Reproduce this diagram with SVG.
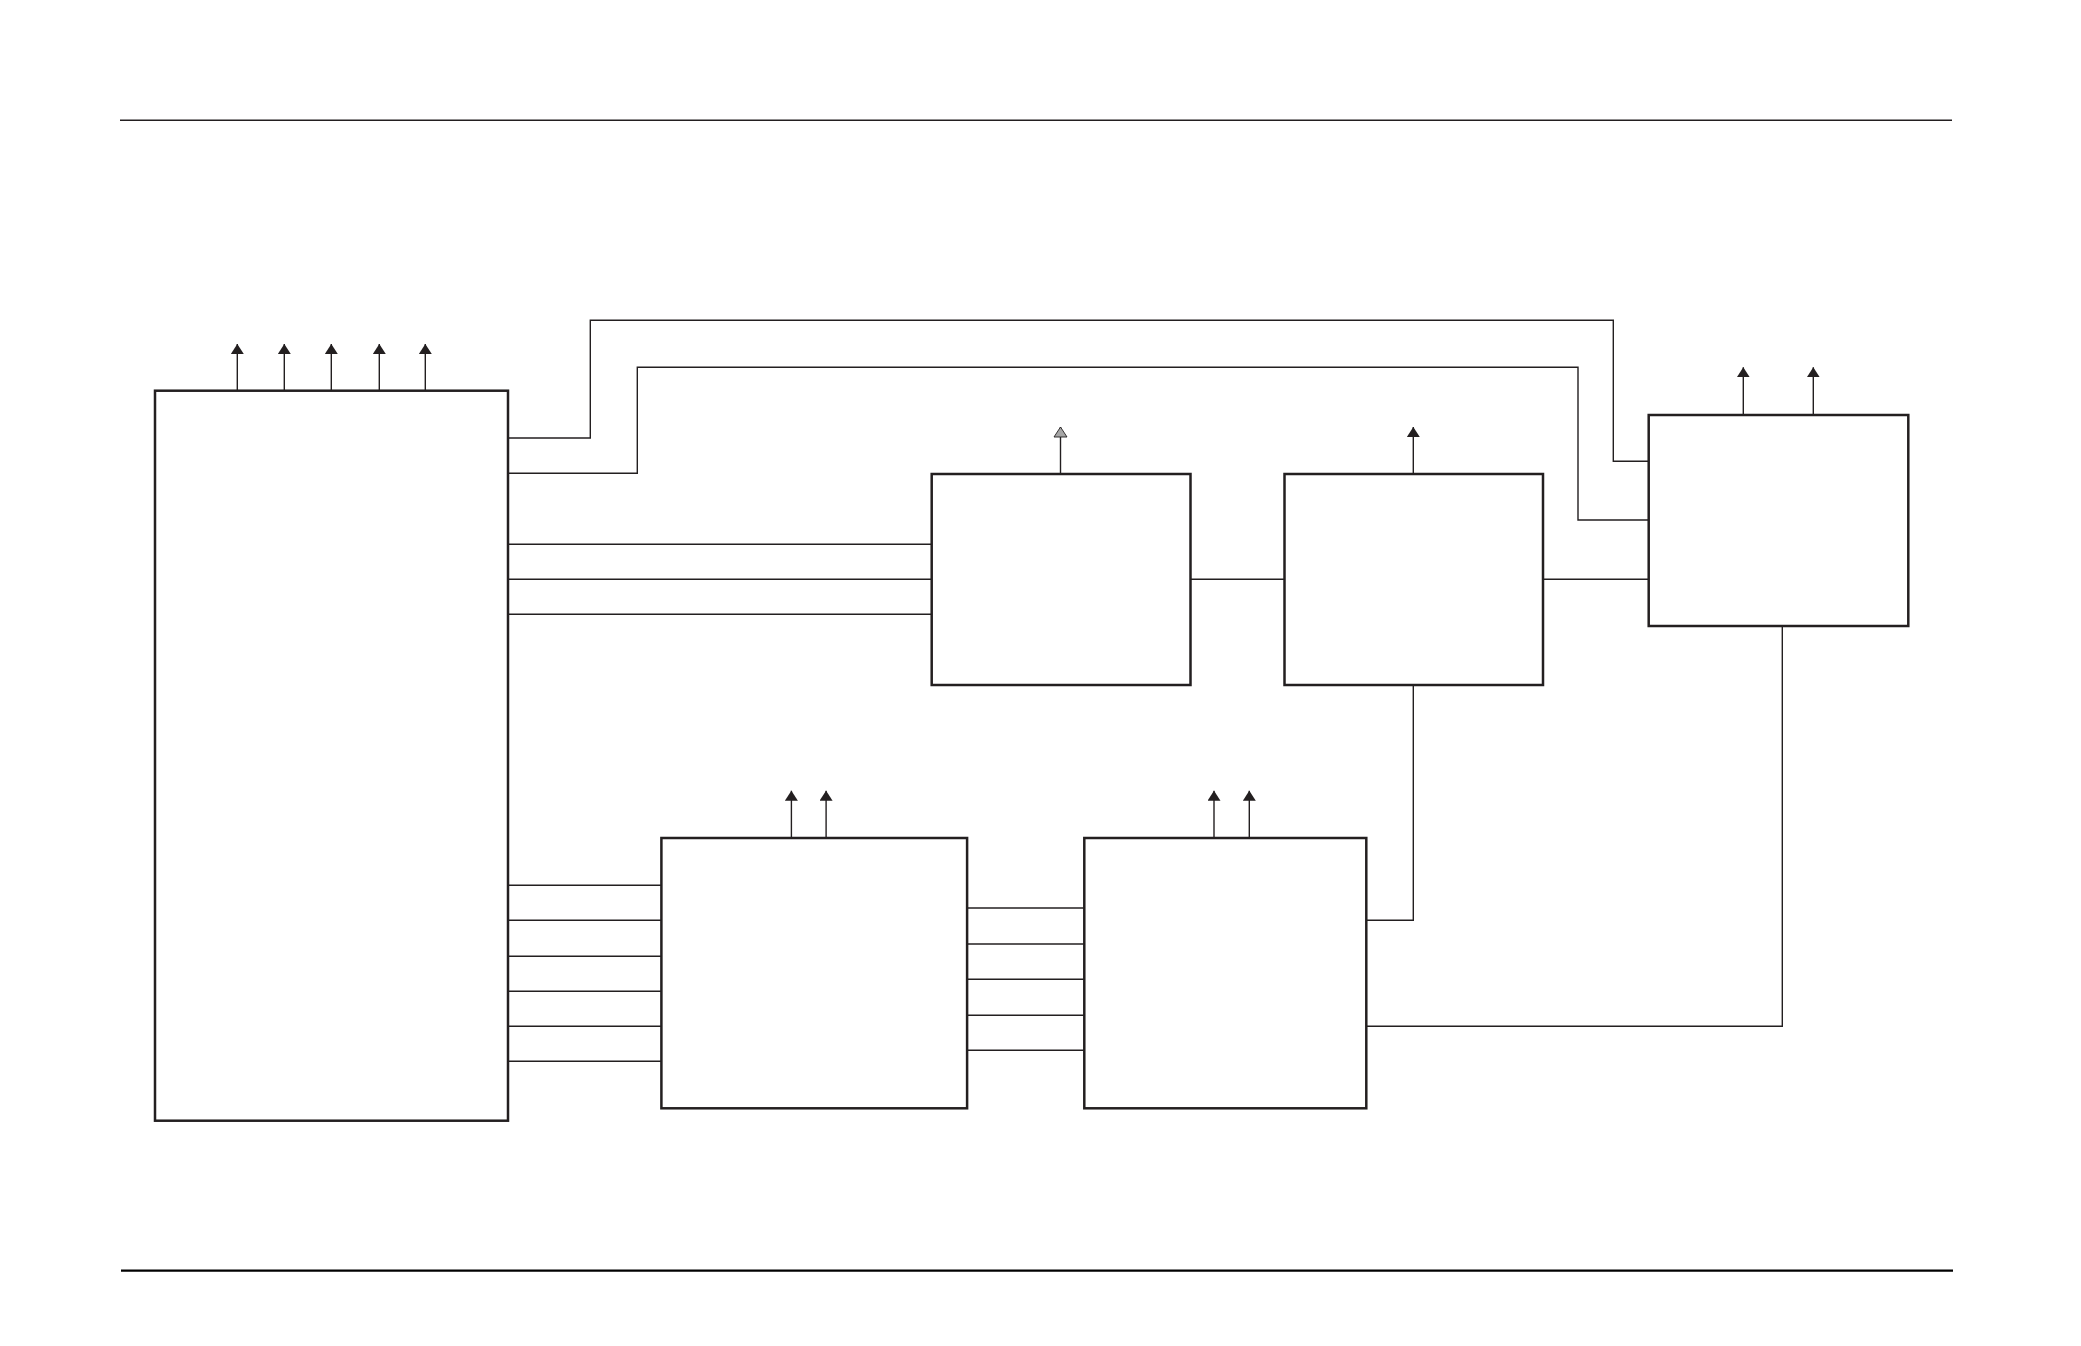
<svg xmlns="http://www.w3.org/2000/svg" width="2081" height="1346" viewBox="0 0 2081 1346">
<defs>
<style>
.box{fill:#fff;stroke:#231f20;stroke-width:2.5}
.wire{fill:none;stroke:#231f20;stroke-width:1.4}
.stem{fill:none;stroke:#231f20;stroke-width:1.4;marker-end:url(#ah)}
.stem2{fill:none;stroke:#231f20;stroke-width:1.4;marker-end:url(#ahg)}
</style>
<marker id="ah" viewBox="0 0 10 13" refX="10" refY="6.5" markerWidth="10" markerHeight="13" markerUnits="userSpaceOnUse" orient="auto">
<path d="M0,0 L10,6.5 L0,13 Z" fill="#231f20"/>
</marker>
<marker id="ahg" viewBox="-1 -1 12 15" refX="10" refY="6.5" markerWidth="12" markerHeight="15" markerUnits="userSpaceOnUse" orient="auto">
<path d="M0,0 L10,6.5 L0,13 Z" fill="#a6a6a6" stroke="#231f20" stroke-width="0.9"/>
</marker>
</defs>
<rect width="2081" height="1346" fill="#fff"/>
<line x1="120" y1="120.3" x2="1952" y2="120.3" stroke="#231f20" stroke-width="1.4"/>
<line x1="121" y1="1270.7" x2="1953" y2="1270.7" stroke="#000" stroke-width="2.2"/>
<g id="connectors">
<polyline class="wire" points="508,438 590.3,438 590.3,320.3 1613.3,320.3 1613.3,461.3 1648.7,461.3"/>
<polyline class="wire" points="508,473.3 637.3,473.3 637.3,367.3 1578,367.3 1578,520 1648.7,520"/>
<line class="wire" x1="508" y1="544.3" x2="931.7" y2="544.3"/>
<line class="wire" x1="508" y1="579.3" x2="931.7" y2="579.3"/>
<line class="wire" x1="508" y1="614.3" x2="931.7" y2="614.3"/>
<line class="wire" x1="1190.5" y1="579.3" x2="1284.5" y2="579.3"/>
<line class="wire" x1="1543" y1="579.3" x2="1648.7" y2="579.3"/>
<line class="wire" x1="508" y1="885.3" x2="661.4" y2="885.3"/>
<line class="wire" x1="508" y1="920.3" x2="661.4" y2="920.3"/>
<line class="wire" x1="508" y1="956.3" x2="661.4" y2="956.3"/>
<line class="wire" x1="508" y1="991.3" x2="661.4" y2="991.3"/>
<line class="wire" x1="508" y1="1026.3" x2="661.4" y2="1026.3"/>
<line class="wire" x1="508" y1="1061.3" x2="661.4" y2="1061.3"/>
<line class="wire" x1="967.1" y1="908" x2="1084.3" y2="908"/>
<line class="wire" x1="967.1" y1="944" x2="1084.3" y2="944"/>
<line class="wire" x1="967.1" y1="979.3" x2="1084.3" y2="979.3"/>
<line class="wire" x1="967.1" y1="1015.3" x2="1084.3" y2="1015.3"/>
<line class="wire" x1="967.1" y1="1050.3" x2="1084.3" y2="1050.3"/>
<polyline class="wire" points="1413.3,685 1413.3,920.3 1366.3,920.3"/>
<polyline class="wire" points="1782.3,626 1782.3,1026.3 1366.3,1026.3"/>
<line class="stem" x1="237.3" y1="390.7" x2="237.3" y2="344"/>
<line class="stem" x1="284.3" y1="390.7" x2="284.3" y2="344"/>
<line class="stem" x1="331.3" y1="390.7" x2="331.3" y2="344"/>
<line class="stem" x1="379.3" y1="390.7" x2="379.3" y2="344"/>
<line class="stem" x1="425.3" y1="390.7" x2="425.3" y2="344"/>
<line class="stem2" x1="1060.5" y1="474" x2="1060.5" y2="427"/>
<line class="stem" x1="1413.3" y1="474" x2="1413.3" y2="427"/>
<line class="stem" x1="1743.3" y1="415" x2="1743.3" y2="367.3"/>
<line class="stem" x1="1813.3" y1="415" x2="1813.3" y2="367.3"/>
<line class="stem" x1="791.4" y1="838" x2="791.4" y2="790.7"/>
<line class="stem" x1="826.1" y1="838" x2="826.1" y2="790.7"/>
<line class="stem" x1="1214" y1="838" x2="1214" y2="790.7"/>
<line class="stem" x1="1249.3" y1="838" x2="1249.3" y2="790.7"/>
</g>
<g id="node-main"><rect class="box" x="155" y="390.7" width="353" height="730"/></g>
<g id="node-a"><rect class="box" x="931.7" y="474" width="258.8" height="211"/></g>
<g id="node-b"><rect class="box" x="1284.5" y="474" width="258.5" height="211"/></g>
<g id="node-e"><rect class="box" x="1648.7" y="415" width="259.6" height="211"/></g>
<g id="node-c"><rect class="box" x="661.4" y="838" width="305.7" height="270.3"/></g>
<g id="node-d"><rect class="box" x="1084.3" y="838" width="282" height="270.3"/></g>
</svg>
